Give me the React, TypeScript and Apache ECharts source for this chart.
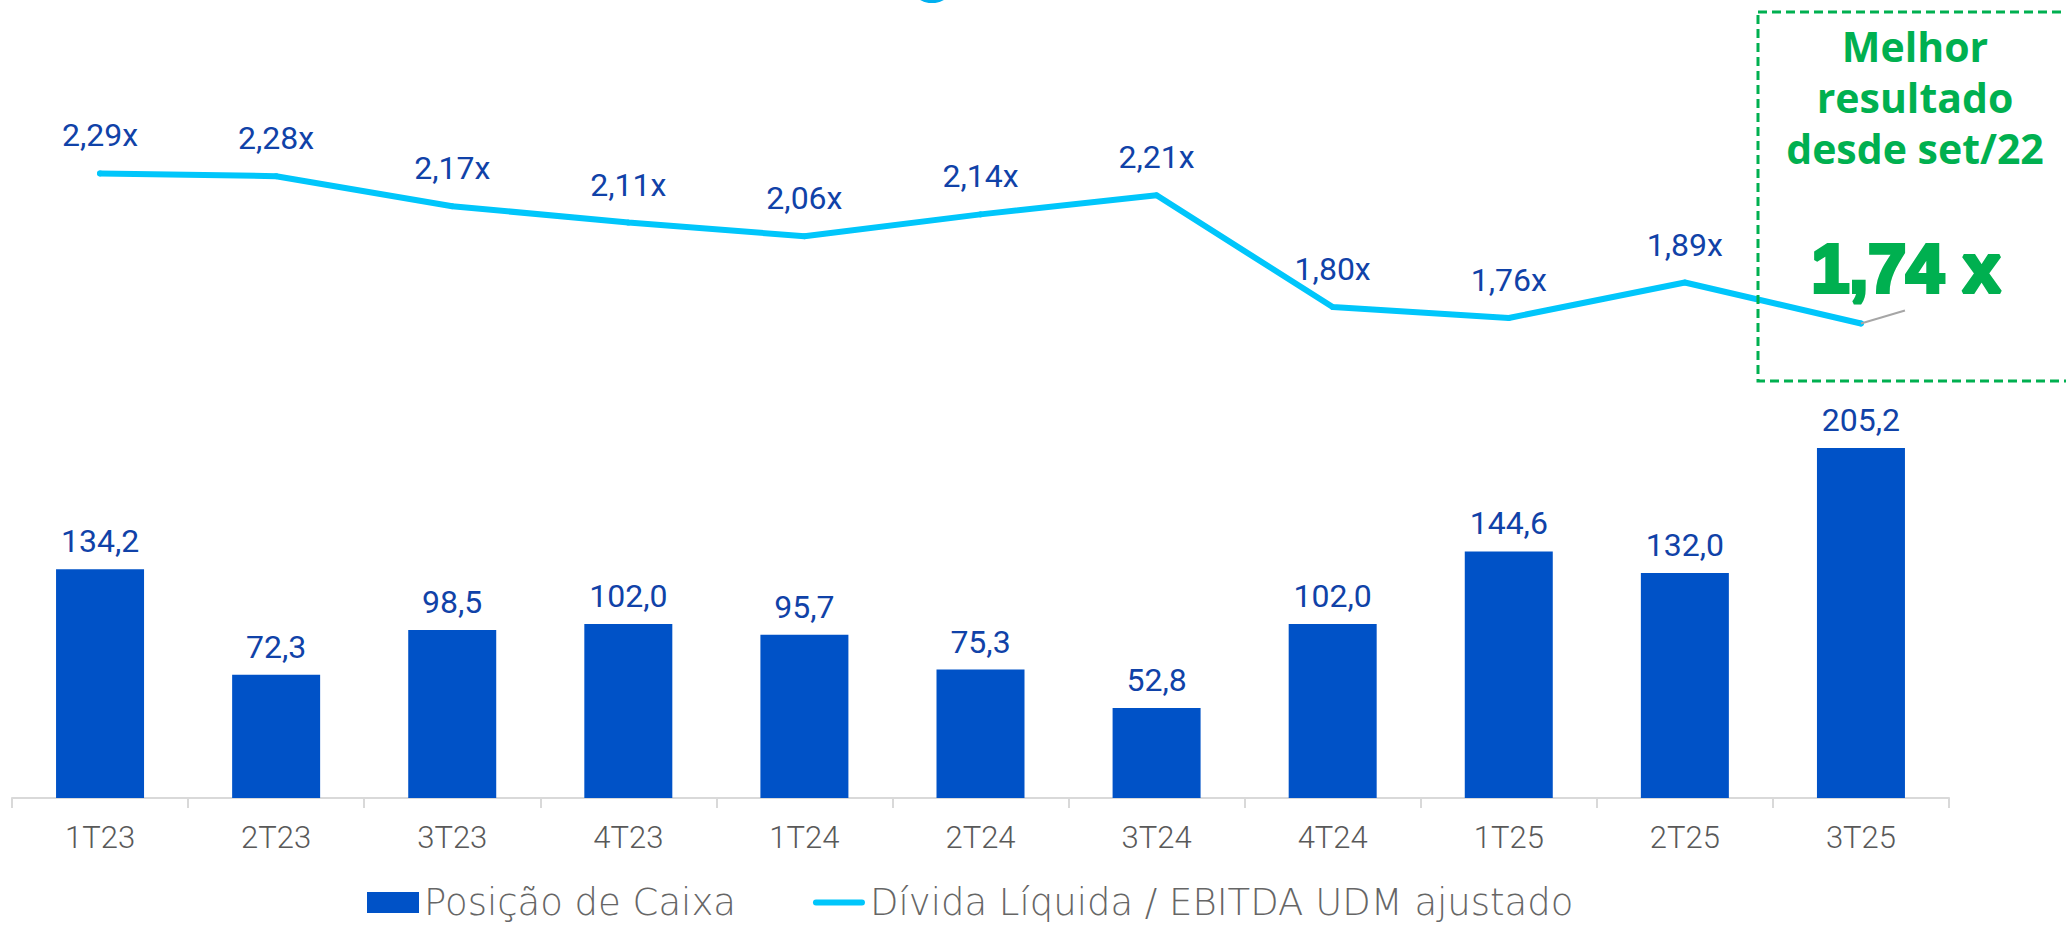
import React, { useEffect, useRef } from "react";
import * as echarts from "echarts";

const categories = ["1T23", "2T23", "3T23", "4T23", "1T24", "2T24", "3T24", "4T24", "1T25", "2T25", "3T25"];
const cashPosition = [134.2, 72.3, 98.5, 102.0, 95.7, 75.3, 52.8, 102.0, 144.6, 132.0, 205.2];
const leverage = [2.29, 2.28, 2.17, 2.11, 2.06, 2.14, 2.21, 1.8, 1.76, 1.89, 1.74];
const seriesNames = ["Posição de Caixa", "Dívida Líquida / EBITDA UDM ajustado"];
const highlightLines = ["Melhor", "resultado", "desde set/22"];
const highlightValue = "1,74 x";

const BAR = "#0052C7";
const LINE = "#00C6FB";
const LABEL = "#1042A8";
const GREEN = "#00B050";

export default function App() {
  const ref = useRef<HTMLDivElement>(null);

  useEffect(() => {
    if (!ref.current) return;
    const chart = echarts.init(ref.current, null, { renderer: "svg" });
    const lastIdx = leverage.length - 1;
    const option: any = {
      animation: false,
      backgroundColor: "#ffffff",
      grid: { left: 12, right: 117, top: 0, bottom: 128, containLabel: false },
      legend: {
        left: 367,
        top: 884,
        padding: 0,
        itemWidth: 52,
        itemHeight: 21,
        itemGap: 77,
        textStyle: { fontFamily: "DejaVu Sans", fontWeight: 300, fontSize: 37, color: "#666666", lineHeight: 37 },
        data: [
          { name: seriesNames[0], icon: "rect", itemStyle: { color: BAR, borderWidth: 0 } },
          {
            name: seriesNames[1],
            icon: "path://M0,0M53,21M3,7.5L50,7.5A3,3,0,0,1,50,13.5L3,13.5A3,3,0,0,1,3,7.5Z",
            itemStyle: { color: LINE, borderWidth: 0 },
          },
        ],
      },
      xAxis: {
        type: "category",
        data: categories,
        boundaryGap: true,
        axisLine: { show: true, lineStyle: { color: "#D9D9D9", width: 2 } },
        axisTick: { show: true, length: 10, lineStyle: { color: "#D9D9D9", width: 2 } },
        axisLabel: { margin: 24, fontFamily: "Roboto", fontWeight: 300, fontSize: 31, color: "#595959" },
        splitLine: { show: false },
      },
      yAxis: [
        { type: "value", min: 0, max: 468, show: false, splitLine: { show: false } },
        { type: "value", min: 0, max: 2.926, show: false, splitLine: { show: false } },
      ],
      series: [
        {
          name: seriesNames[0],
          type: "bar",
          data: cashPosition,
          barWidth: 88,
          itemStyle: { color: BAR },
          label: {
            show: true,
            position: "top",
            distance: 12,
            fontFamily: "Roboto",
            fontSize: 32,
            color: LABEL,
            formatter: (p: any) => Number(p.value).toFixed(1).replace(".", ","),
          },
        },
        {
          name: seriesNames[1],
          type: "line",
          yAxisIndex: 1,
          data: leverage.map((v, i) => (i === lastIdx ? { value: v, label: { show: false } } : v)),
          symbol: "circle",
          symbolSize: 6,
          itemStyle: { color: LINE },
          lineStyle: { color: LINE, width: 6, cap: "round" },
          z: 3,
          label: {
            show: true,
            position: "top",
            distance: 19,
            fontFamily: "Roboto",
            fontSize: 32,
            color: LABEL,
            formatter: (p: any) => Number(p.value).toFixed(2).replace(".", ",") + "x",
          },
        },
      ],
    };
    chart.setOption(option);

    const pt = chart.convertToPixel({ seriesIndex: 1 }, [lastIdx, leverage[lastIdx]]) as number[];
    const headline = highlightLines.map((t, i) => ({
      type: "text",
      style: {
        x: 1915,
        y: 46 + i * 51,
        text: t,
        align: "center",
        verticalAlign: "middle",
        fontFamily: "Open Sans",
        fontWeight: 700,
        fontSize: 41,
        lineHeight: 42,
        fill: GREEN,
      },
      z: 10,
    }));
    chart.setOption({
      graphic: [
        {
          type: "circle",
          shape: { cx: 932, cy: -22, r: 25 },
          style: { fill: "#00B0F0" },
          silent: true,
        },
        {
          type: "rect",
          shape: { x: 1758, y: 12, width: 400, height: 369 },
          style: { fill: "none", stroke: GREEN, lineWidth: 3, lineDash: [9, 5] },
          z: 10,
          silent: true,
        },
        ...headline,
        {
          type: "text",
          style: {
            x: 1906,
            y: 268,
            text: highlightValue,
            align: "center",
            verticalAlign: "middle",
            fontFamily: "Liberation Sans",
            fontWeight: 900,
            fontSize: 68,
            fill: GREEN,
            stroke: GREEN,
            lineWidth: 4,
          },
          z: 10,
        },
        {
          type: "line",
          shape: { x1: pt[0], y1: pt[1], x2: pt[0] + 44, y2: pt[1] - 13 },
          style: { stroke: "#A6A6A6", lineWidth: 2 },
          z: 11,
          silent: true,
        },
      ],
    });

    return () => chart.dispose();
  }, []);

  return (
    <div
      ref={ref}
      style={{ position: "fixed", left: 0, top: 0, width: 2066, height: 926, background: "#ffffff" }}
    />
  );
}
